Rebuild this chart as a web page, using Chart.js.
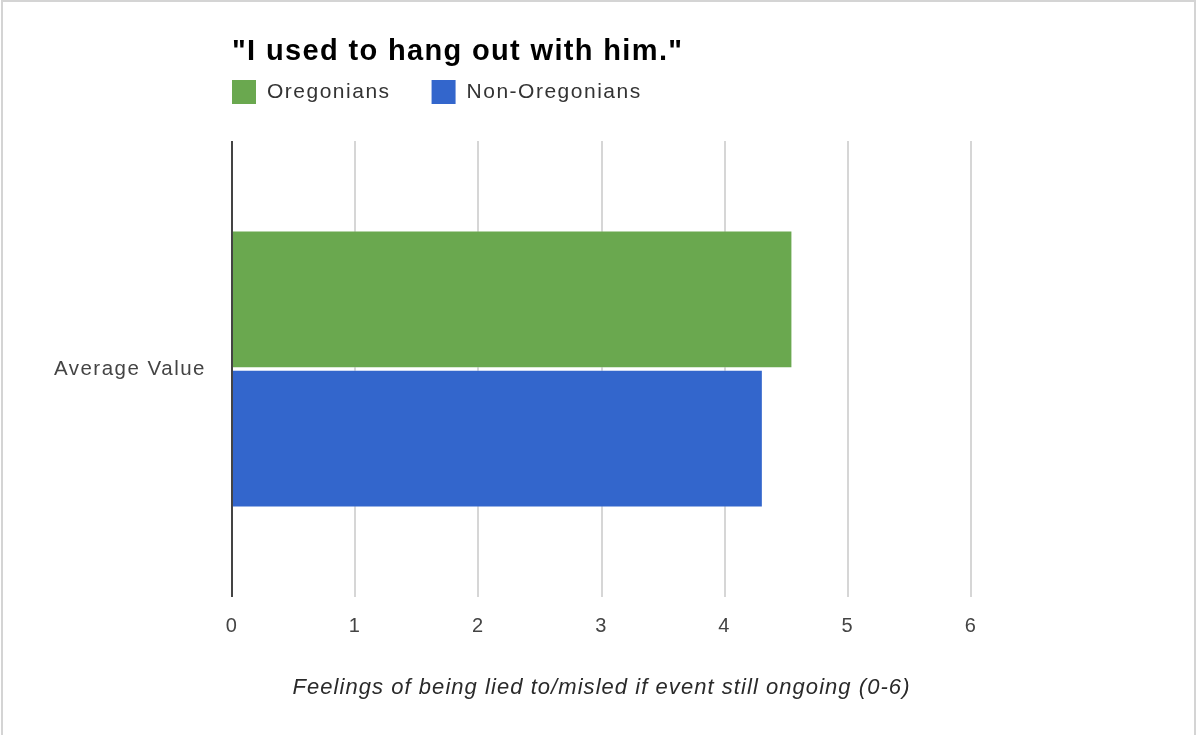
<!DOCTYPE html>
<html>
<head>
<meta charset="utf-8">
<script src="https://cdn.jsdelivr.net/npm/chart.js@4.4.1/dist/chart.umd.min.js"></script>
<style>
  html, body { margin: 0; padding: 0; background: #fff; }
  #wrap { position: relative; width: 1198px; height: 735px; }
  #wrap::after {
    content: ""; position: absolute; left: 1px; top: 0; width: 1195px; height: 735px;
    border-top: 2px solid #d4d4d4; border-left: 2px solid #d4d4d4; border-right: 2px solid #d4d4d4;
    box-sizing: border-box; pointer-events: none;
  }
  canvas { display: block; }
</style>
</head>
<body>
<div id="wrap"><canvas id="chart" width="1198" height="735"></canvas></div>
<script>
// Survey averages, one category with two respondent groups
const categories = ['Average Value'];
const seriesNames = ['Oregonians', 'Non-Oregonians'];
const oregonians = [4.55];
const nonOregonians = [4.31];
const xTickValues = [0, 1, 2, 3, 4, 5, 6];
const chartTitle = '"I used to hang out with him."';
const xAxisTitle = 'Feelings of being lied to/misled if event still ongoing (0-6)';

const FONT = '"Liberation Sans", Arial, Helvetica, sans-serif';
const SPACING = '1.5px';       // regular labels, legend
const CAPTION_SPACING = '1.05px'; // italic axis caption

// Letter tracking: the axis caption is drawn with the grid (before the bars),
// tick labels are drawn after the bars with the wider tracking.
const tracking = {
  id: 'tracking',
  beforeUpdate(chart) { chart.ctx.letterSpacing = SPACING; },
  beforeLayout(chart) { chart.ctx.letterSpacing = SPACING; },
  beforeDraw(chart) { chart.ctx.letterSpacing = CAPTION_SPACING; },
  afterDatasetsDraw(chart) { chart.ctx.letterSpacing = SPACING; }
};

// Title and legend row, left-aligned with the plot area
const header = {
  id: 'header',
  afterDraw(chart) {
    const ctx = chart.ctx;
    const left = chart.chartArea.left;
    ctx.save();
    ctx.textBaseline = 'middle';
    ctx.textAlign = 'left';

    ctx.letterSpacing = '1.35px';
    ctx.font = 'bold 29px ' + FONT;
    ctx.fillStyle = '#000';
    ctx.fillText(chartTitle, left, 52);

    ctx.letterSpacing = SPACING;
    ctx.font = '21px ' + FONT;
    let x = left;
    chart.data.datasets.forEach(ds => {
      ctx.fillStyle = ds.backgroundColor;
      ctx.fillRect(x, 80, 24, 24);
      ctx.fillStyle = '#333';
      ctx.fillText(ds.label, x + 35, 92);
      x += 35 + ctx.measureText(ds.label).width + 41;
    });
    ctx.restore();
  }
};

new Chart(document.getElementById('chart'), {
  type: 'bar',
  data: {
    labels: categories,
    datasets: [
      {
        label: seriesNames[0],
        data: oregonians,
        backgroundColor: '#6aa84f',
        borderColor: 'rgba(255,255,255,0.3)',
        borderWidth: 1
      },
      {
        label: seriesNames[1],
        data: nonOregonians,
        backgroundColor: '#3366cc',
        borderColor: 'rgba(255,255,255,0.3)',
        borderWidth: 1
      }
    ]
  },
  options: {
    indexAxis: 'y',
    responsive: false,
    animation: false,
    devicePixelRatio: 1,
    categoryPercentage: 0.61,
    barPercentage: 0.99,
    layout: { padding: { left: 20, right: 227, top: 141, bottom: 0 } },
    plugins: {
      legend: { display: false },
      tooltip: { enabled: false },
      title: { display: false }
    },
    scales: {
      x: {
        type: 'linear',
        min: xTickValues[0],
        max: xTickValues[xTickValues.length - 1],
        afterFit(scale) { scale.height = 138; },
        afterBuildTicks(scale) { scale.ticks = xTickValues.map(v => ({ value: v })); },
        ticks: {
          z: 1,
          color: '#444',
          font: { family: FONT, size: 20 },
          padding: 17
        },
        grid: {
          drawTicks: false,
          lineWidth: 2,
          color: ctx => (ctx.tick && ctx.tick.value === 0 ? '#444' : '#d6d6d6')
        },
        border: { display: false },
        title: {
          display: true,
          text: xAxisTitle,
          color: '#2a2a2a',
          font: { family: FONT, size: 22, style: 'italic', lineHeight: 1.2 },
          padding: { top: 0, bottom: 34 }
        }
      },
      y: {
        type: 'category',
        afterFit(scale) { scale.width = 212; },
        ticks: {
          z: 1,
          color: '#444',
          font: { family: FONT, size: 20.5 },
          padding: 26
        },
        grid: { display: false, drawTicks: false },
        border: { display: false }
      }
    }
  },
  plugins: [tracking, header]
});
</script>
</body>
</html>
